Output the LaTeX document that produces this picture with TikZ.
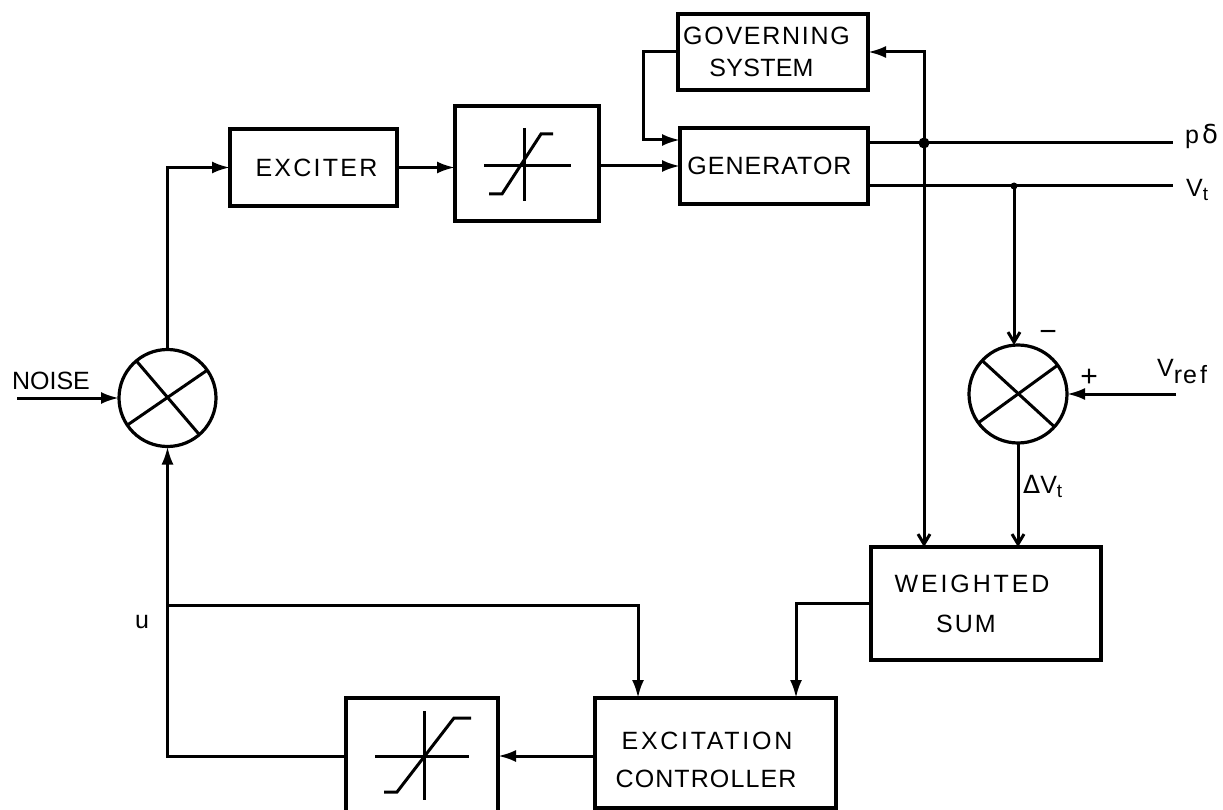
\documentclass[tikz,border=0pt]{standalone}
\usepackage{fontspec}
\usepackage{xcolor}
\usetikzlibrary{calc,arrows.meta,positioning}
\newfontfamily\plainfont{Liberation Sans}
\newfontfamily\symbfont{DejaVu Sans}
\newcommand{\spaced}[2]{{\addfontfeature{LetterSpace=#1}#2}}
\tikzset{
  wire/.style={line width=3pt},
  feed/.style={wire, -{Latex[length=18pt,width=12pt]}},
  feedbarb/.style={wire, -{Straight Barb[length=10pt,width=12pt]}},
  blockbox/.style={draw, line width=3.2pt, outer sep=0pt, font=\plainfont\fontsize{25}{38}\selectfont, align=center, inner sep=0pt},
  sumring/.style={draw, line width=3.2pt, circle, outer sep=0pt, minimum size=#1, inner sep=0pt},
  sign/.style={font=\plainfont\fontsize{25}{28}\selectfont, inner sep=0pt},
  blob/.style={circle, fill=black, inner sep=0pt, minimum size=#1}
}
\begin{document}
\begin{tikzpicture}[x=1pt, y=-1pt]
  \useasboundingbox (0,0) rectangle (1223,810);
  \clip (0,0) rectangle (1223,810);
  \fill[white] (0,0) rectangle (1223,810);
  % blocks
  \node[blockbox, minimum width=190pt, minimum height=76pt] (gov) at (773,52) {\spaced{7}{GOVERNING}\hspace*{13pt}\\[-6pt]\spaced{1}{SYSTEM}\hspace*{23pt}};
  \node[blockbox, minimum width=188pt, minimum height=76pt] (gen) at (774,166) {\spaced{4}{GENERATOR}\hspace*{9pt}};
  \node[blockbox, minimum width=167pt, minimum height=77pt] (exc) at (313.5,167.5) {\hspace*{6pt}\spaced{9}{EXCITER}};
  \node[blockbox, minimum width=144pt, minimum height=115pt] (limup) at (527,163.5) {};
  \node[blockbox, minimum width=230pt, minimum height=113pt] (wsum) at (986,603.5) {\spaced{11.5}{WEIGHTED}\hspace*{28pt}\\[2pt]\spaced{8}{SUM}\hspace*{40pt}};
  \node[blockbox, minimum width=241pt, minimum height=110pt] (ctrl) at (715.5,753) {\rule{0pt}{31pt}\spaced{10.8}{EXCITATION}\hspace*{17pt}\\\spaced{4.4}{CONTROLLER}\hspace*{19pt}};
  \node[blockbox, minimum width=152pt, minimum height=116pt] (limlow) at (422,756) {};
  \node[sumring=97pt] (addin) at (167.5,398) {};
  \node[sumring=98pt] (adderr) at (1018,394) {};
  % crosses and limiter curves
  \foreach \sm/\aa/\ab/\ac/\ad in {addin/35/214/130/311,adderr/36/216/137/318} {
    \draw[wire] (\sm.\aa) -- (\sm.\ab);
    \draw[wire] (\sm.\ac) -- (\sm.\ad);
  }
  \foreach \cx/\cy/\hl/\hr/\vt/\vb/\dl/\ml/\mr/\dr/\fl/\fr in {
    524/166/40/47/38/35/35/22/17/29/28/-32,
    424/756/49/45/45/44/40/27/30/47/36/-38
  } {
    \draw[wire] (\cx-\hl,\cy) -- (\cx+\hr,\cy);
    \draw[wire] (\cx,\cy-\vt) -- (\cx,\cy+\vb);
    \draw[wire] (\cx-\dl,\cy+\fl) -- (\cx-\ml,\cy+\fl) -- (\cx+\mr,\cy+\fr) -- (\cx+\dr,\cy+\fr);
  }
  % free ends
  \coordinate (noiseend) at (17,398);
  \coordinate (delend) at (1173,143);
  \coordinate (vtend) at (1173,186);
  \coordinate (refend) at (1176,394);
  \coordinate (govtap) at (924,143);
  \coordinate (vttap) at (1014,186);
  \coordinate (utap) at (167.5,605);
  \coordinate (govbend) at (643,140);
  % connectors
  \draw[feed] (noiseend) -- (addin.west);
  \draw[feed] (addin.north) |- (exc.west);
  \draw[feed] (exc.east) -- (exc.east -| limup.west);
  \draw[feed] (limup.east |- gen.west) -- (gen.west);
  \draw[feed] (gov.west) -| (govbend) -- (gen.west |- govbend);
  \draw[wire] (gen.east |- delend) -- (delend);
  \draw[wire] (gen.east |- vtend) -- (vtend);
  \draw[feed] (govtap) |- (gov.east);
  \draw[feedbarb] (govtap) -- (govtap |- wsum.north);
  \draw[feedbarb] (vttap) -- (vttap |- adderr.north);
  \draw[feed] (refend) -- (adderr.east);
  \draw[feedbarb] (adderr.south) -- (adderr.south |- wsum.north);
  \draw[feed] (wsum.west) -| ([xshift=80.5pt]ctrl.north);
  \draw[feed] (ctrl.west |- limlow.east) -- (limlow.east);
  \draw[feed] (limlow.west) -| (addin.south);
  \draw[feed] (utap) -| ([xshift=-77.5pt]ctrl.north);
  \node[blob=11pt] (delblob) at (govtap) {};
  \node[blob=7pt] (vtblob) at (vttap) {};
  % labels
  \node[sign] (noiselab) at (51,381) {NOISE};
  \node[sign] (ulab) at (142,622) {u};
  \node[sign, anchor=west] (dellab) at (1185,136) {p\hspace{3pt}{\symbfont\fontsize{26}{28}\selectfont δ}};
  \node[sign, anchor=west] (vtlab) at (1186,190) {V\raisebox{-4pt}{\fontsize{19}{20}\selectfont t}};
  \node[sign, anchor=west] (reflab) at (1157,372) {V\raisebox{-7pt}{\fontsize{25}{26}\selectfont r\hspace{1pt}e\hspace{3pt}f}};
  \node[sign, font=\plainfont\fontsize{30}{32}\selectfont] (minuslab) at (1048,336) {−};
  \node[sign, font=\plainfont\fontsize{30}{32}\selectfont] (pluslab) at (1089,378) {+};
  \node[sign, anchor=west] (errlab) at (1023,486) {{\symbfont\fontsize{25}{26}\selectfont Δ}V\raisebox{-4pt}{\fontsize{19}{20}\selectfont t}};
\end{tikzpicture}
\end{document}
